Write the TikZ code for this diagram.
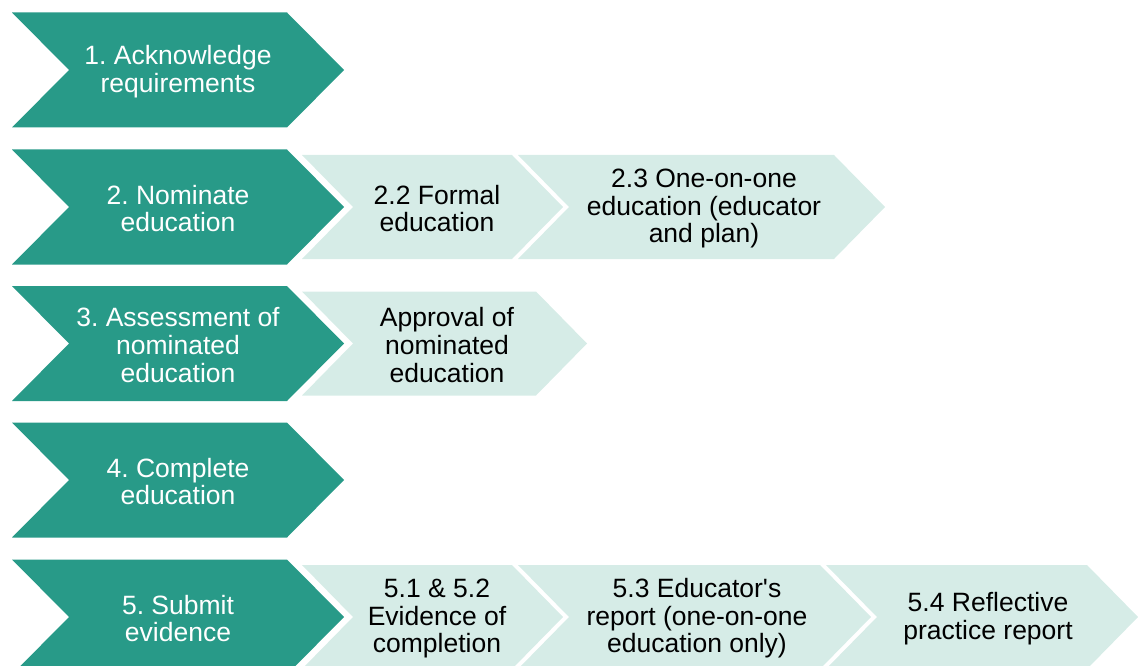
\documentclass[tikz,border=0pt]{standalone}
\usepackage{fontspec}
\setmainfont{Liberation Sans}
\definecolor{darkteal}{RGB}{40,154,136}
\definecolor{mint}{RGB}{214,236,231}
% #1 colour, #2 left x, #3 depth, #4 top-right x, #5 centre y, #6 half height
\newcommand{\chevshape}[6]{%
  \fill[#1] (#2,#5-#6) -- (#4,#5-#6) -- (#4+#3,#5) -- (#4,#5+#6) -- (#2,#5+#6) -- (#2+#3,#5) -- cycle;}
\tikzset{
  darktext/.style={text=white, align=center, font=\fontsize{26.5}{27.6}\selectfont\frenchspacing, inner sep=0pt, yshift=-1.5pt},
  lighttext/.style={text=black, align=center, font=\fontsize{26.5}{27.6}\selectfont\frenchspacing, inner sep=0pt, yshift=-1.5pt}
}
\begin{document}
\begin{tikzpicture}[x=1pt,y=-1pt]
\useasboundingbox (0,0) rectangle (1138,666);
\clip (0,0) rectangle (1138,666);
% dark chevrons
\chevshape{darkteal}{12}{57}{287}{70}{57.5}
\chevshape{darkteal}{12}{57}{287}{207}{57.5}
\chevshape{darkteal}{12}{57}{287}{343.5}{57.5}
\chevshape{darkteal}{12}{57}{287}{480}{57.5}
\chevshape{darkteal}{12}{57}{287}{617}{57.5}
% light chevrons
\chevshape{mint}{302}{51}{512}{207}{52}
\chevshape{mint}{518}{51}{834}{207}{52}
\chevshape{mint}{302}{51}{536}{343.5}{52}
\chevshape{mint}{302}{51}{512}{617}{52}
\chevshape{mint}{518}{51}{820}{617}{52}
\chevshape{mint}{826}{51}{1087}{617}{52}
% texts
\node[darktext] (s1) at (178,70) {1. Acknowledge\\requirements};
\node[darktext] (s2) at (178,207) {2. Nominate\\education};
\node[darktext] (s3) at (178,343.5) {3. Assessment of\\nominated\\education};
\node[darktext] (s4) at (178,480) {4. Complete\\education};
\node[darktext] (s5) at (178,617) {5. Submit\\evidence};
\node[lighttext] (s22) at (437,207) {2.2 Formal\\education};
\node[lighttext] (s23) at (704,207) {2.3 One-on-one\\education (educator\\and plan)};
\node[lighttext] (s3a) at (447,343.5) {Approval of\\nominated\\education};
\node[lighttext] (s51) at (437,617) {5.1 \& 5.2\\Evidence of\\completion};
\node[lighttext] (s53) at (697,617) {5.3 Educator\textquotesingle s\\report (one-on-one\\education only)};
\node[lighttext] (s54) at (988,617) {5.4 Reflective\\practice report};
\end{tikzpicture}
\end{document}
